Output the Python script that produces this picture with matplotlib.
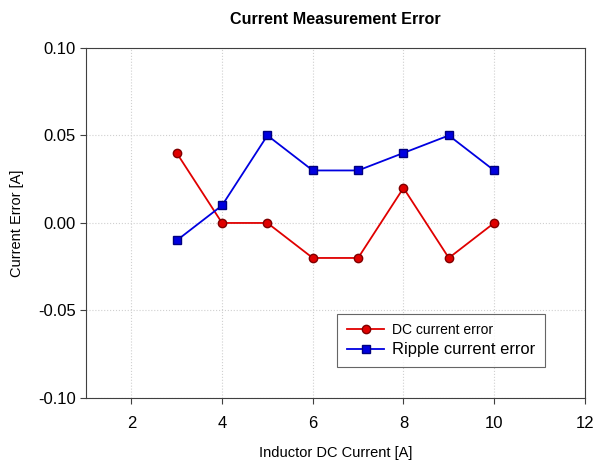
import matplotlib.pyplot as plt

plt.rcParams["font.family"] = ["Liberation Sans", "DejaVu Sans"]

inductor_current = [3, 4, 5, 6, 7, 8, 9, 10]
dc_error = [0.04, 0.00, 0.00, -0.02, -0.02, 0.02, -0.02, 0.00]
ripple_error = [-0.01, 0.01, 0.05, 0.03, 0.03, 0.04, 0.05, 0.03]
x_ticks = [2, 4, 6, 8, 10, 12]
y_ticks = [-0.10, -0.05, 0.00, 0.05, 0.10]

fig = plt.figure(figsize=(5.95, 4.61), dpi=100)
ax = fig.add_axes([0.1445, 0.1367, 0.8385, 0.7593])

ax.plot(inductor_current, dc_error, color="#e00000", marker="o", markersize=6,
        markerfacecolor="#e00000", markeredgecolor="#800000", linewidth=1.3,
        label="DC current error", zorder=3)
ax.plot(inductor_current, ripple_error, color="#0000e0", marker="s", markersize=6,
        markerfacecolor="#0000e0", markeredgecolor="#000080", linewidth=1.3,
        label="Ripple current error", zorder=3)

ax.set_xlim(1, 12)
ax.set_ylim(-0.10, 0.10)
ax.set_xticks(x_ticks)
ax.set_yticks(y_ticks)
ax.set_yticklabels([f"{v:.2f}" for v in y_ticks])
ax.grid(True, linestyle=":", color="#d0d0d0", linewidth=0.8)
ax.tick_params(direction="out", length=4, labelsize=12, color="#404040")
ax.tick_params(axis="x", pad=9)
for s in ax.spines.values():
    s.set_color("#404040")

ax.set_xlabel("Inductor DC Current [A]", fontsize=10.5, labelpad=11)
ax.set_ylabel("Current Error [A]", fontsize=10.5, labelpad=10)
ax.set_title("Current Measurement Error", fontsize=11.6, fontweight="bold", pad=17)

leg = ax.legend(loc="lower right", bbox_to_anchor=(0.92, 0.089), frameon=True,
                fancybox=False, edgecolor="#404040", handlelength=2.7,
                borderpad=0.7, labelspacing=0.35, handletextpad=0.55,
                borderaxespad=0)
leg.get_frame().set_linewidth(0.8)
texts = leg.get_texts()
texts[0].set_fontsize(10)
texts[1].set_fontsize(11.9)

fig.savefig("out.png", dpi=100)
